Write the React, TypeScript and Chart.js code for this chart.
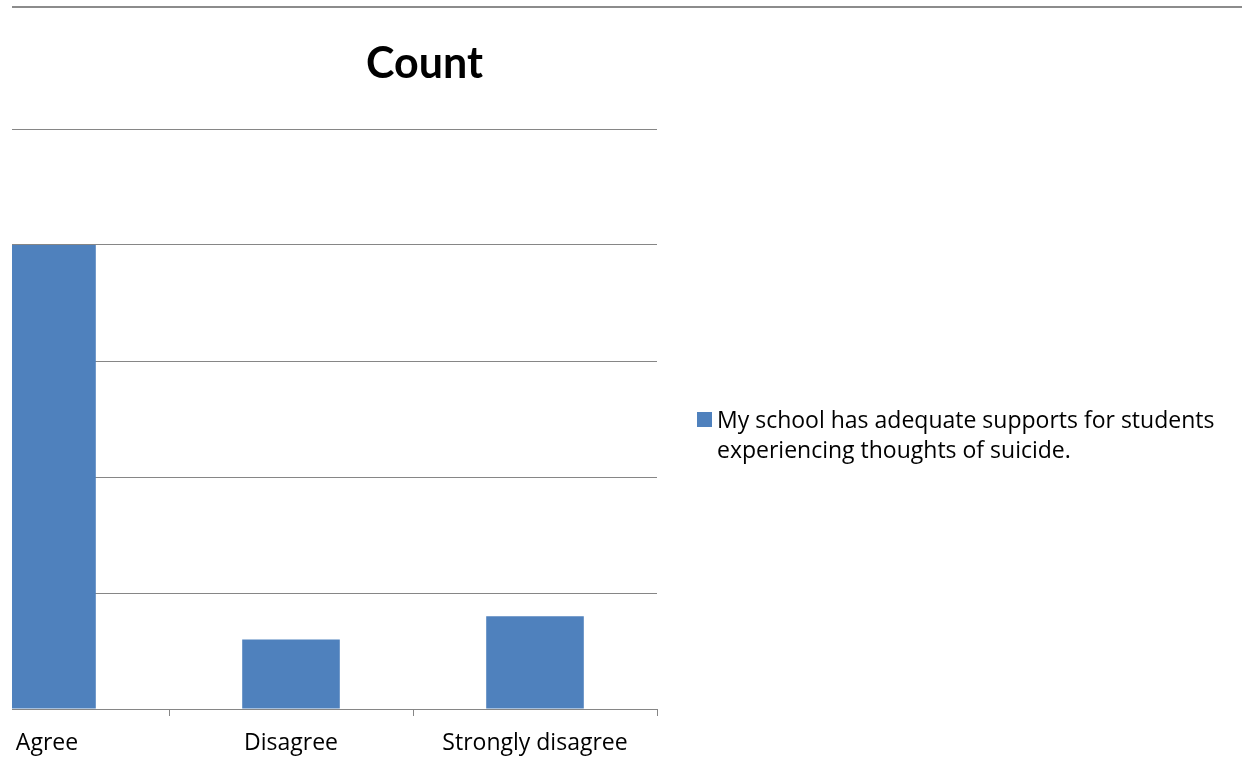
import React, { useEffect, useRef } from "react";
import { Chart, registerables } from "chart.js";

Chart.register(...registerables);

// ---- data ----
const categories: string[] = ["Agree", "Disagree", "Strongly disagree"];
const counts: number[] = [20, 3, 4];
const seriesLabel = "My school has adequate supports for students experiencing thoughts of suicide.";
const legendLines: string[] = ["My school has adequate supports for students", "experiencing thoughts of suicide."];
const chartTitle = "Count";
const yMin = 0;
const yMax = 25;
const yStep = 5;

// ---- styling ----
const TITLE_FONT = "Lato, 'Open Sans', sans-serif";
const FONT = "'Open Sans', Lato, sans-serif";
const BAR_COLOR = "#4F81BD";
const GRID_COLOR = "#868686";
const TEXT_COLOR = "#000000";

// page geometry (the chart is cropped on its left side)
const CLIP_LEFT = 12;
const SHIFT = 75; // canvas x = page x + SHIFT
const CANVAS_W = 1242 + SHIFT;
const CANVAS_H = 775;

const decorPlugin = {
  id: "decor",
  afterDraw(chart: any) {
    const ctx = chart.ctx as CanvasRenderingContext2D;
    ctx.save();
    // top rule
    ctx.strokeStyle = "#8c8c8c";
    ctx.lineWidth = 2;
    ctx.beginPath();
    ctx.moveTo(0, 7);
    ctx.lineTo(CANVAS_W, 7);
    ctx.stroke();
    // title
    ctx.fillStyle = TEXT_COLOR;
    ctx.font = `bold 43px ${TITLE_FONT}`;
    ctx.textAlign = "center";
    ctx.textBaseline = "alphabetic";
    ctx.fillText(chartTitle, 424.5 + SHIFT, 78);
    // legend
    const ds = chart.data.datasets[0];
    ctx.fillStyle = ds.backgroundColor;
    ctx.fillRect(697 + SHIFT, 412, 15, 15);
    ctx.fillStyle = TEXT_COLOR;
    ctx.font = `23px ${FONT}`;
    ctx.textAlign = "left";
    legendLines.forEach((line, i) => {
      ctx.fillText(line, 717 + SHIFT, 428 + i * 30);
    });
    ctx.restore();
  },
};

export default function App() {
  const ref = useRef<HTMLCanvasElement | null>(null);

  useEffect(() => {
    if (!ref.current) return;
    const chart = new Chart(ref.current, {
      type: "bar",
      data: {
        labels: categories,
        datasets: [
          {
            label: seriesLabel,
            data: counts,
            backgroundColor: BAR_COLOR,
            borderWidth: 0,
            categoryPercentage: 1,
            barPercentage: 0.4,
          },
        ],
      },
      options: {
        animation: false,
        responsive: false,
        maintainAspectRatio: false,
        devicePixelRatio: 1,
        layout: { padding: { left: 0, right: CANVAS_W - (657 + SHIFT), top: 129, bottom: 0 } },
        plugins: {
          legend: { display: false },
          title: { display: false },
          tooltip: { enabled: false },
        },
        scales: {
          x: {
            grid: {
              display: true,
              drawOnChartArea: false,
              drawTicks: true,
              tickLength: 7,
              color: GRID_COLOR,
              offset: true,
            },
            border: { display: true, color: GRID_COLOR, width: 1 },
            ticks: {
              color: TEXT_COLOR,
              font: { family: FONT, size: 23 },
              padding: 14,
              maxRotation: 0,
              autoSkip: false,
            },
            afterFit(scale: any) {
              scale.height = CANVAS_H - 709;
            },
          },
          y: {
            min: yMin,
            max: yMax,
            ticks: { display: false, stepSize: yStep },
            grid: { color: GRID_COLOR, drawTicks: false, lineWidth: 1 },
            border: { display: false },
            afterFit(scale: any) {
              scale.width = 0;
            },
          },
        },
      },
      plugins: [decorPlugin],
    });
    return () => chart.destroy();
  }, []);

  return (
    <div
      style={{
        position: "fixed",
        left: CLIP_LEFT,
        top: 0,
        width: 1242 - CLIP_LEFT,
        height: CANVAS_H,
        overflow: "hidden",
        background: "#fff",
      }}
    >
      <canvas
        ref={ref}
        width={CANVAS_W}
        height={CANVAS_H}
        style={{ position: "absolute", left: -(SHIFT + CLIP_LEFT), top: 0, width: CANVAS_W, height: CANVAS_H }}
      />
    </div>
  );
}
